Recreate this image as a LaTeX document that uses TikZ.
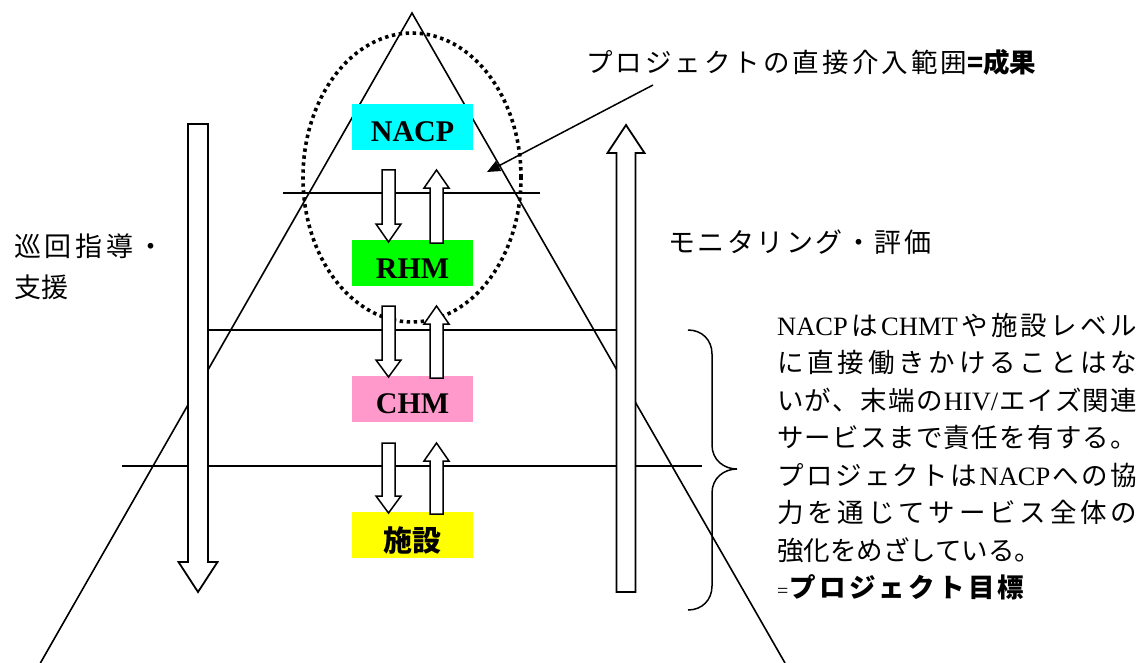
\documentclass[tikz,border=0pt]{standalone}
\usepackage{fontspec}
\setmainfont{Liberation Serif}
\newfontfamily\jp{Noto Sans CJK JP}
\newfontfamily\lat{Liberation Serif}
\usetikzlibrary{arrows.meta}
\definecolor{boxcyan}{RGB}{0,255,255}
\definecolor{boxgreen}{RGB}{0,255,0}
\definecolor{boxpink}{RGB}{255,153,204}
\definecolor{boxyellow}{RGB}{255,255,0}
\ExplSyntaxOn
\NewDocumentCommand \spreadto { m m }
  {
    \hbox_to_wd:nn {#1}
      {
        \bool_set_false:N \l_tmpa_bool
        \tl_map_inline:nn {#2}
          {
            \bool_if:NT \l_tmpa_bool { \hfil }
            \bool_set_true:N \l_tmpa_bool
            { ##1 }
          }
      }
  }
\ExplSyntaxOff
% [style]{xc}{ytail}{yheadbase}{ytip}{half shaft}{half head}
\newcommand\blockarrow[7][]{%
  \draw[blockline,#1] (#2-#6,#3) -- (#2+#6,#3) -- (#2+#6,#4) -- (#2+#7,#4)
    -- (#2,#5) -- (#2-#7,#4) -- (#2-#6,#4) -- cycle;}
\begin{document}
\begin{tikzpicture}[x=1pt,y=-1pt,
  thinline/.style={line width=1.6pt},
  blockline/.style={draw=black, fill=white, line width=1.8pt, line join=miter},
  smallblock/.style={line width=1.5pt},
  lvl/.style={minimum width=121pt, minimum height=46pt, inner sep=0pt},
  lvltext/.style={font=\fontsize{30}{30}\selectfont\bfseries, inner sep=0pt},
  jptext/.style={font=\jp\fontsize{26.5}{30}\selectfont, inner sep=0pt, anchor=base west},
  lbltext/.style={font=\jp\fontsize{27}{30}\selectfont, inner sep=0pt, anchor=base west}]
\fill[white] (0,0) rectangle (1147,663);
\useasboundingbox (0,0) rectangle (1147,663);

% pyramid
\coordinate (apex) at (412,13);
\coordinate (bl) at (40.4,663);
\coordinate (br) at (785,663);
\draw[thinline] (bl) -- (apex) -- (br);

% level lines
\coordinate (l1a) at (283,193); \coordinate (l1b) at (540,193);
\coordinate (l2a) at (207,330); \coordinate (l2b) at (617,330);
\coordinate (l3a) at (122,466); \coordinate (l3b) at (702,466);
\draw[thinline] (l1a) -- (l1b);
\draw[thinline] (l2a) -- (l2b);
\draw[thinline] (l3a) -- (l3b);

% dotted ellipse
\draw[line width=3.6pt, dash pattern=on 3.4pt off 3.6pt] (412,177.5) ellipse [x radius=109pt, y radius=144.5pt];

% level boxes
\node[lvl, fill=boxcyan] (nacp) at (412.5,127) {};
\node[lvl, fill=boxgreen] (rhm) at (412.5,263) {};
\node[lvl, fill=boxpink] (chm) at (412.5,399) {};
\node[lvl, fill=boxyellow] (fac) at (412.5,535) {};
\node[lvltext] (nacpT) at ([yshift=-5pt]nacp.center) {NACP};
\node[lvltext] (rhmT) at ([yshift=-5.5pt]rhm.center) {RHM};
\node[lvltext] (chmT) at ([yshift=-4.5pt]chm.center) {CHM};
\node[lvltext, font=\jp\fontsize{29}{30}\selectfont\bfseries] (facT) at ([yshift=-5pt]fac.center) {施設};

% big arrows
\blockarrow{198}{124}{562}{592}{10}{19.5}
\blockarrow{626}{592}{153}{125}{9.5}{18.5}

% small arrows
\blockarrow[smallblock]{388.5}{170}{224}{242}{6.5}{12.5}
\blockarrow[smallblock]{436.5}{243}{188}{170}{6.5}{12.5}
\blockarrow[smallblock]{388.5}{306}{360}{377}{6.5}{12.5}
\blockarrow[smallblock]{436.5}{378}{324}{306}{6.5}{12.5}
\blockarrow[smallblock]{388.5}{443}{496}{513}{6.5}{12.5}
\blockarrow[smallblock]{436.5}{514}{461}{443}{6.5}{12.5}

% callout
\node[jptext] (scope) at (586,73) {\spreadto{381pt}{プロジェクトの直接介入範囲}{\bfseries =成果}};
\coordinate (cs) at (653,85);
\coordinate (ct) at (487,172);
\draw[line width=1.5pt, -{Triangle[length=13pt,width=11pt]}] (cs) -- (ct);

% side labels
\node[lbltext] (sup1) at (14,256) {\spreadto{150pt}{巡回指導・}};
\node[lbltext] (sup2) at (14,297) {支援};
\node[lbltext] (mon) at (668,252) {\spreadto{263pt}{モニタリング・評価}};

% brace
\draw[line width=1.5pt] (688,330) .. controls (702,330) and (712,340) .. (712,354) -- (712,445)
  .. controls (712,460) and (724,469) .. (737,469)
  .. controls (724,469) and (712,478) .. (712,493) -- (712,586)
  .. controls (712,600) and (702,610) .. (688,610);

% explanation block
\node[jptext] (t1) at (777,335) {\spreadto{360pt}{{\lat NACP}は{\lat CHMT}や施設レベル}};
\node[jptext] (t2) at (777,372.5) {\spreadto{360pt}{に直接働きかけることはな}};
\node[jptext] (t3) at (777,410) {\spreadto{360pt}{いが、末端の{\lat HIV/}エイズ関連}};
\node[jptext] (t4) at (777,447.5) {\spreadto{360pt}{サービスまで責任を有する。}};
\node[jptext] (t5) at (777,485) {\spreadto{360pt}{プロジェクトは{\lat NACP}への協}};
\node[jptext] (t6) at (777,522.5) {\spreadto{360pt}{力を通じてサービス全体の}};
\node[jptext] (t7) at (777,560) {強化をめざしている。};
\node[jptext] (t8) at (777,597.5) {{\lat\fontsize{20}{24}\selectfont =}\hspace{1pt}{\bfseries\spreadto{235pt}{プロジェクト目標}}};
\end{tikzpicture}
\end{document}
